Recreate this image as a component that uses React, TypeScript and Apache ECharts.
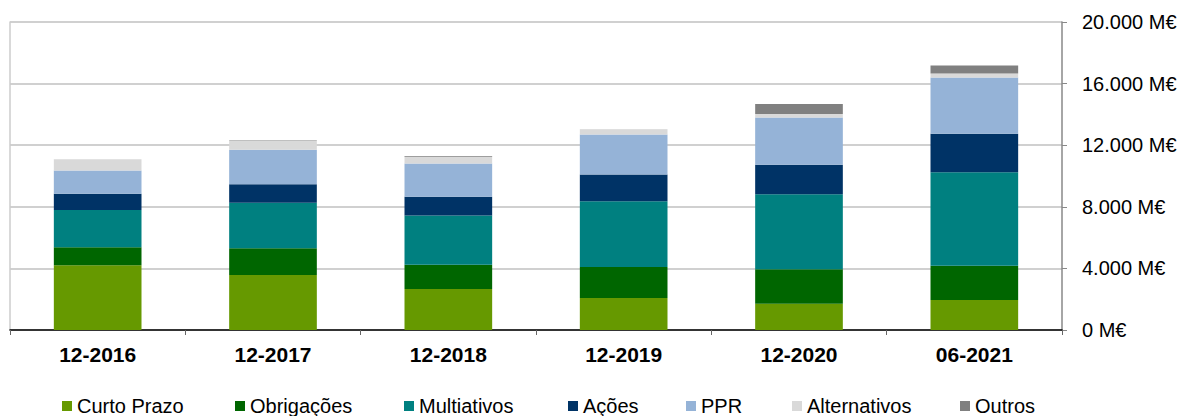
import React, { useEffect, useRef } from "react";
import * as echarts from "echarts";

const categories = ["12-2016", "12-2017", "12-2018", "12-2019", "12-2020", "06-2021"];
const curtoPrazo = [4200, 3575, 2665, 2080, 1710, 1950];
const obrigacoes = [1180, 1735, 1580, 2015, 2235, 2230];
const multiativos = [2420, 2945, 3185, 4270, 4875, 6070];
const acoes = [1040, 1215, 1215, 1730, 1905, 2490];
const ppr = [1515, 2230, 2165, 2600, 3075, 3660];
const alternativos = [740, 565, 435, 285, 220, 260];
const outros = [0, 40, 50, 20, 650, 520];
const yTicks = [0, 4000, 8000, 12000, 16000, 20000];

const seriesDefs = [
  { name: "Curto Prazo", data: curtoPrazo, color: "#669900" },
  { name: "Obrigações", data: obrigacoes, color: "#006600" },
  { name: "Multiativos", data: multiativos, color: "#008080" },
  { name: "Ações", data: acoes, color: "#003366" },
  { name: "PPR", data: ppr, color: "#95B3D7" },
  { name: "Alternativos", data: alternativos, color: "#D9D9D9" },
  { name: "Outros", data: outros, color: "#808080" },
];
const legendLefts = [62, 235, 404, 568, 686, 792, 960];

const FONT = "'Liberation Sans', Arial, sans-serif";

function fmt(v: number): string {
  return String(v).replace(/\B(?=(\d{3})+(?!\d))/g, ".") + " M€";
}

export default function App() {
  const ref = useRef<HTMLDivElement>(null);
  useEffect(() => {
    if (!ref.current) return;
    const chart = echarts.init(ref.current, undefined, { renderer: "svg" });
    chart.setOption({
      animation: false,
      backgroundColor: "#ffffff",
      textStyle: { fontFamily: FONT },
      grid: { left: 10, right: 133, top: 22, bottom: 86, containLabel: false },
      legend: seriesDefs.map((s, i) => ({
        data: [s.name],
        left: legendLefts[i],
        top: 396,
        padding: 0,
        icon: "rect",
        itemWidth: 10,
        itemHeight: 10,
        itemGap: 0,
        selectedMode: false,
        textStyle: { fontFamily: FONT, fontSize: 20, color: "#000" },
      })),
      xAxis: {
        type: "category",
        data: categories,
        boundaryGap: true,
        axisLine: { show: true, lineStyle: { color: "#000", width: 1.5 } },
        axisTick: { show: true, length: 5, lineStyle: { color: "#666", width: 1 } },
        axisLabel: {
          fontFamily: FONT,
          fontSize: 21,
          fontWeight: "bold",
          color: "#000",
          margin: 14,
        },
        splitLine: { show: false },
      },
      yAxis: [
        {
          type: "value",
          position: "right",
          min: yTicks[0],
          max: yTicks[yTicks.length - 1],
          interval: 4000,
          axisLine: { show: true, lineStyle: { color: "#888", width: 1.5 } },
          axisTick: { show: true, inside: false, length: 5, lineStyle: { color: "#888" } },
          axisLabel: {
            fontFamily: FONT,
            fontSize: 20,
            color: "#000",
            margin: 20,
            formatter: (v: number) => fmt(v),
          },
          splitLine: { show: true, lineStyle: { color: "#c0c0c0", width: 1.5 } },
        },
        {
          type: "value",
          position: "left",
          min: yTicks[0],
          max: yTicks[yTicks.length - 1],
          interval: 4000,
          axisLine: { show: true, lineStyle: { color: "#cccccc", width: 1.5 } },
          axisTick: { show: false },
          axisLabel: { show: false },
          splitLine: { show: false },
        },
      ],
      series: seriesDefs.map((s) => ({
        name: s.name,
        type: "bar",
        stack: "total",
        yAxisIndex: 0,
        barWidth: "50%",
        data: s.data,
        itemStyle: { color: s.color },
        emphasis: { disabled: true },
      })),
    });
    return () => chart.dispose();
  }, []);
  return (
    <div
      ref={ref}
      style={{ position: "fixed", left: 0, top: 0, width: 1195, height: 416 }}
    />
  );
}
